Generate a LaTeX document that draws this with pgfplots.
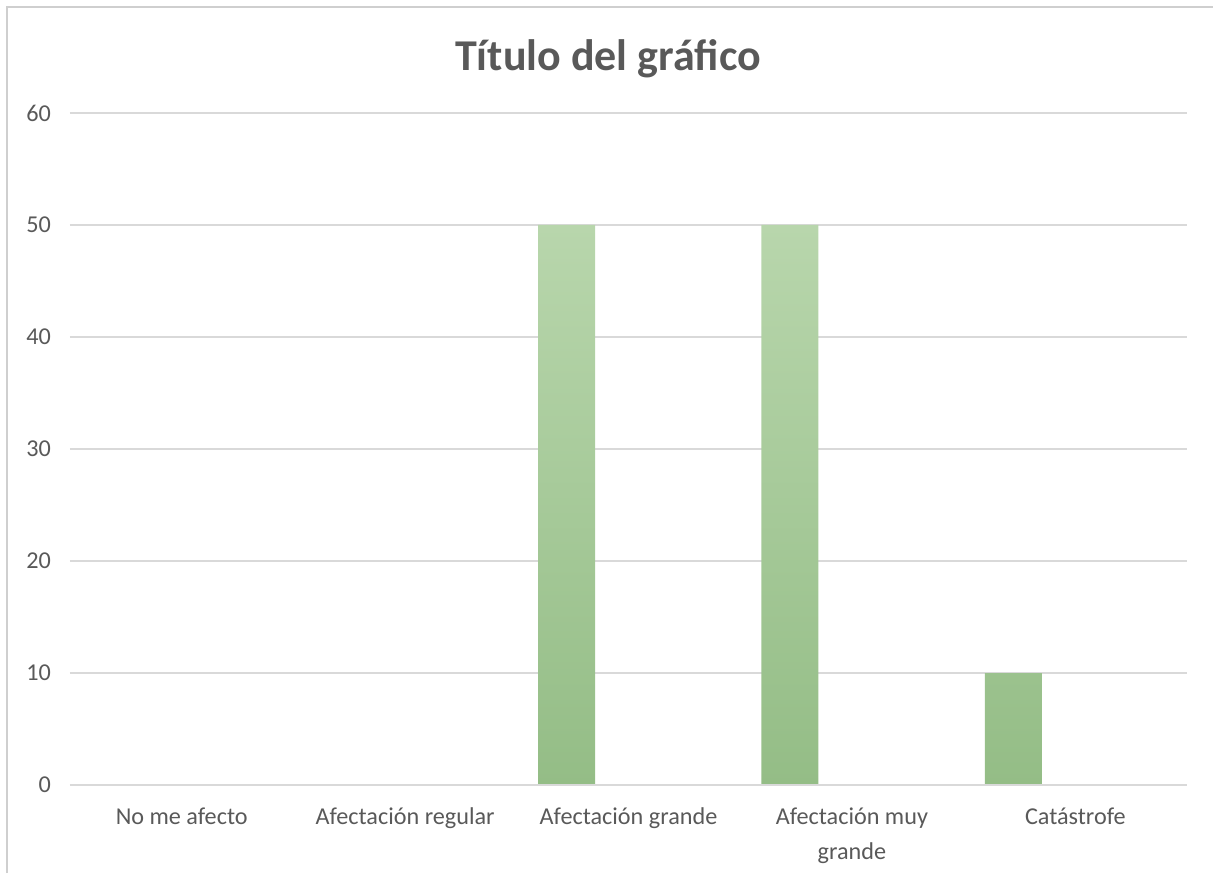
\documentclass[border=0pt]{standalone}
\usepackage{pgfplots}
\pgfplotsset{compat=1.18}
\usepackage{fontspec}
\setmainfont{Carlito}
\definecolor{txt}{HTML}{595959}
\definecolor{gridc}{HTML}{D9D9D9}
\definecolor{frame}{HTML}{CFCFCF}
\definecolor{bartop}{HTML}{B8D6AC}
\definecolor{barbot}{HTML}{94BD86}
\begin{document}
\begin{tikzpicture}
% canvas of 606.5pt x 436.5pt
\useasboundingbox (0,0) rectangle (606.5pt,436.5pt);
% chart frame (left and top edges)
\draw[frame,line width=1.2pt] (3.5pt,0) -- (3.5pt,433pt) -- (606.5pt,433pt);
\node[text=txt,font=\fontsize{22}{26}\selectfont\bfseries] at (304pt,407pt) {Título del gráfico};
\begin{axis}[
  at={(35pt,44pt)}, anchor=south west,
  scale only axis,
  width=558.5pt, height=336pt,
  xmin=-0.5, xmax=4.5,
  ymin=0, ymax=60,
  ytick={0,10,...,60},
  xtick={0,1,2,3,4},
  xticklabels={No me afecto,Afectación regular,Afectación grande,{Afectación muy\\grande},Catástrofe},
  xticklabel style={align=center,text=txt,font=\fontsize{12.1}{17.5}\selectfont},
  yticklabel style={text=txt,font=\fontsize{12.1}{14}\selectfont},
  /pgf/number format/assume math mode=true,
  major tick length=0pt,
  ymajorgrids,
  grid style={gridc,line width=0.8pt},
  axis line style={draw=none},
  xtick pos=bottom, ytick pos=left,
  xticklabel shift=8pt,
  yticklabel shift=6pt,
  ybar,
  bar width=28.5pt,
  bar shift=-31pt,
  clip=false,
]
\addplot[draw=none, top color=bartop, bottom color=barbot]
  coordinates {(2,50) (3,50) (4,10)};
\draw[gridc,line width=0.8pt] (axis cs:-0.5,0) -- (axis cs:4.5,0);
\end{axis}
\end{tikzpicture}
\end{document}
